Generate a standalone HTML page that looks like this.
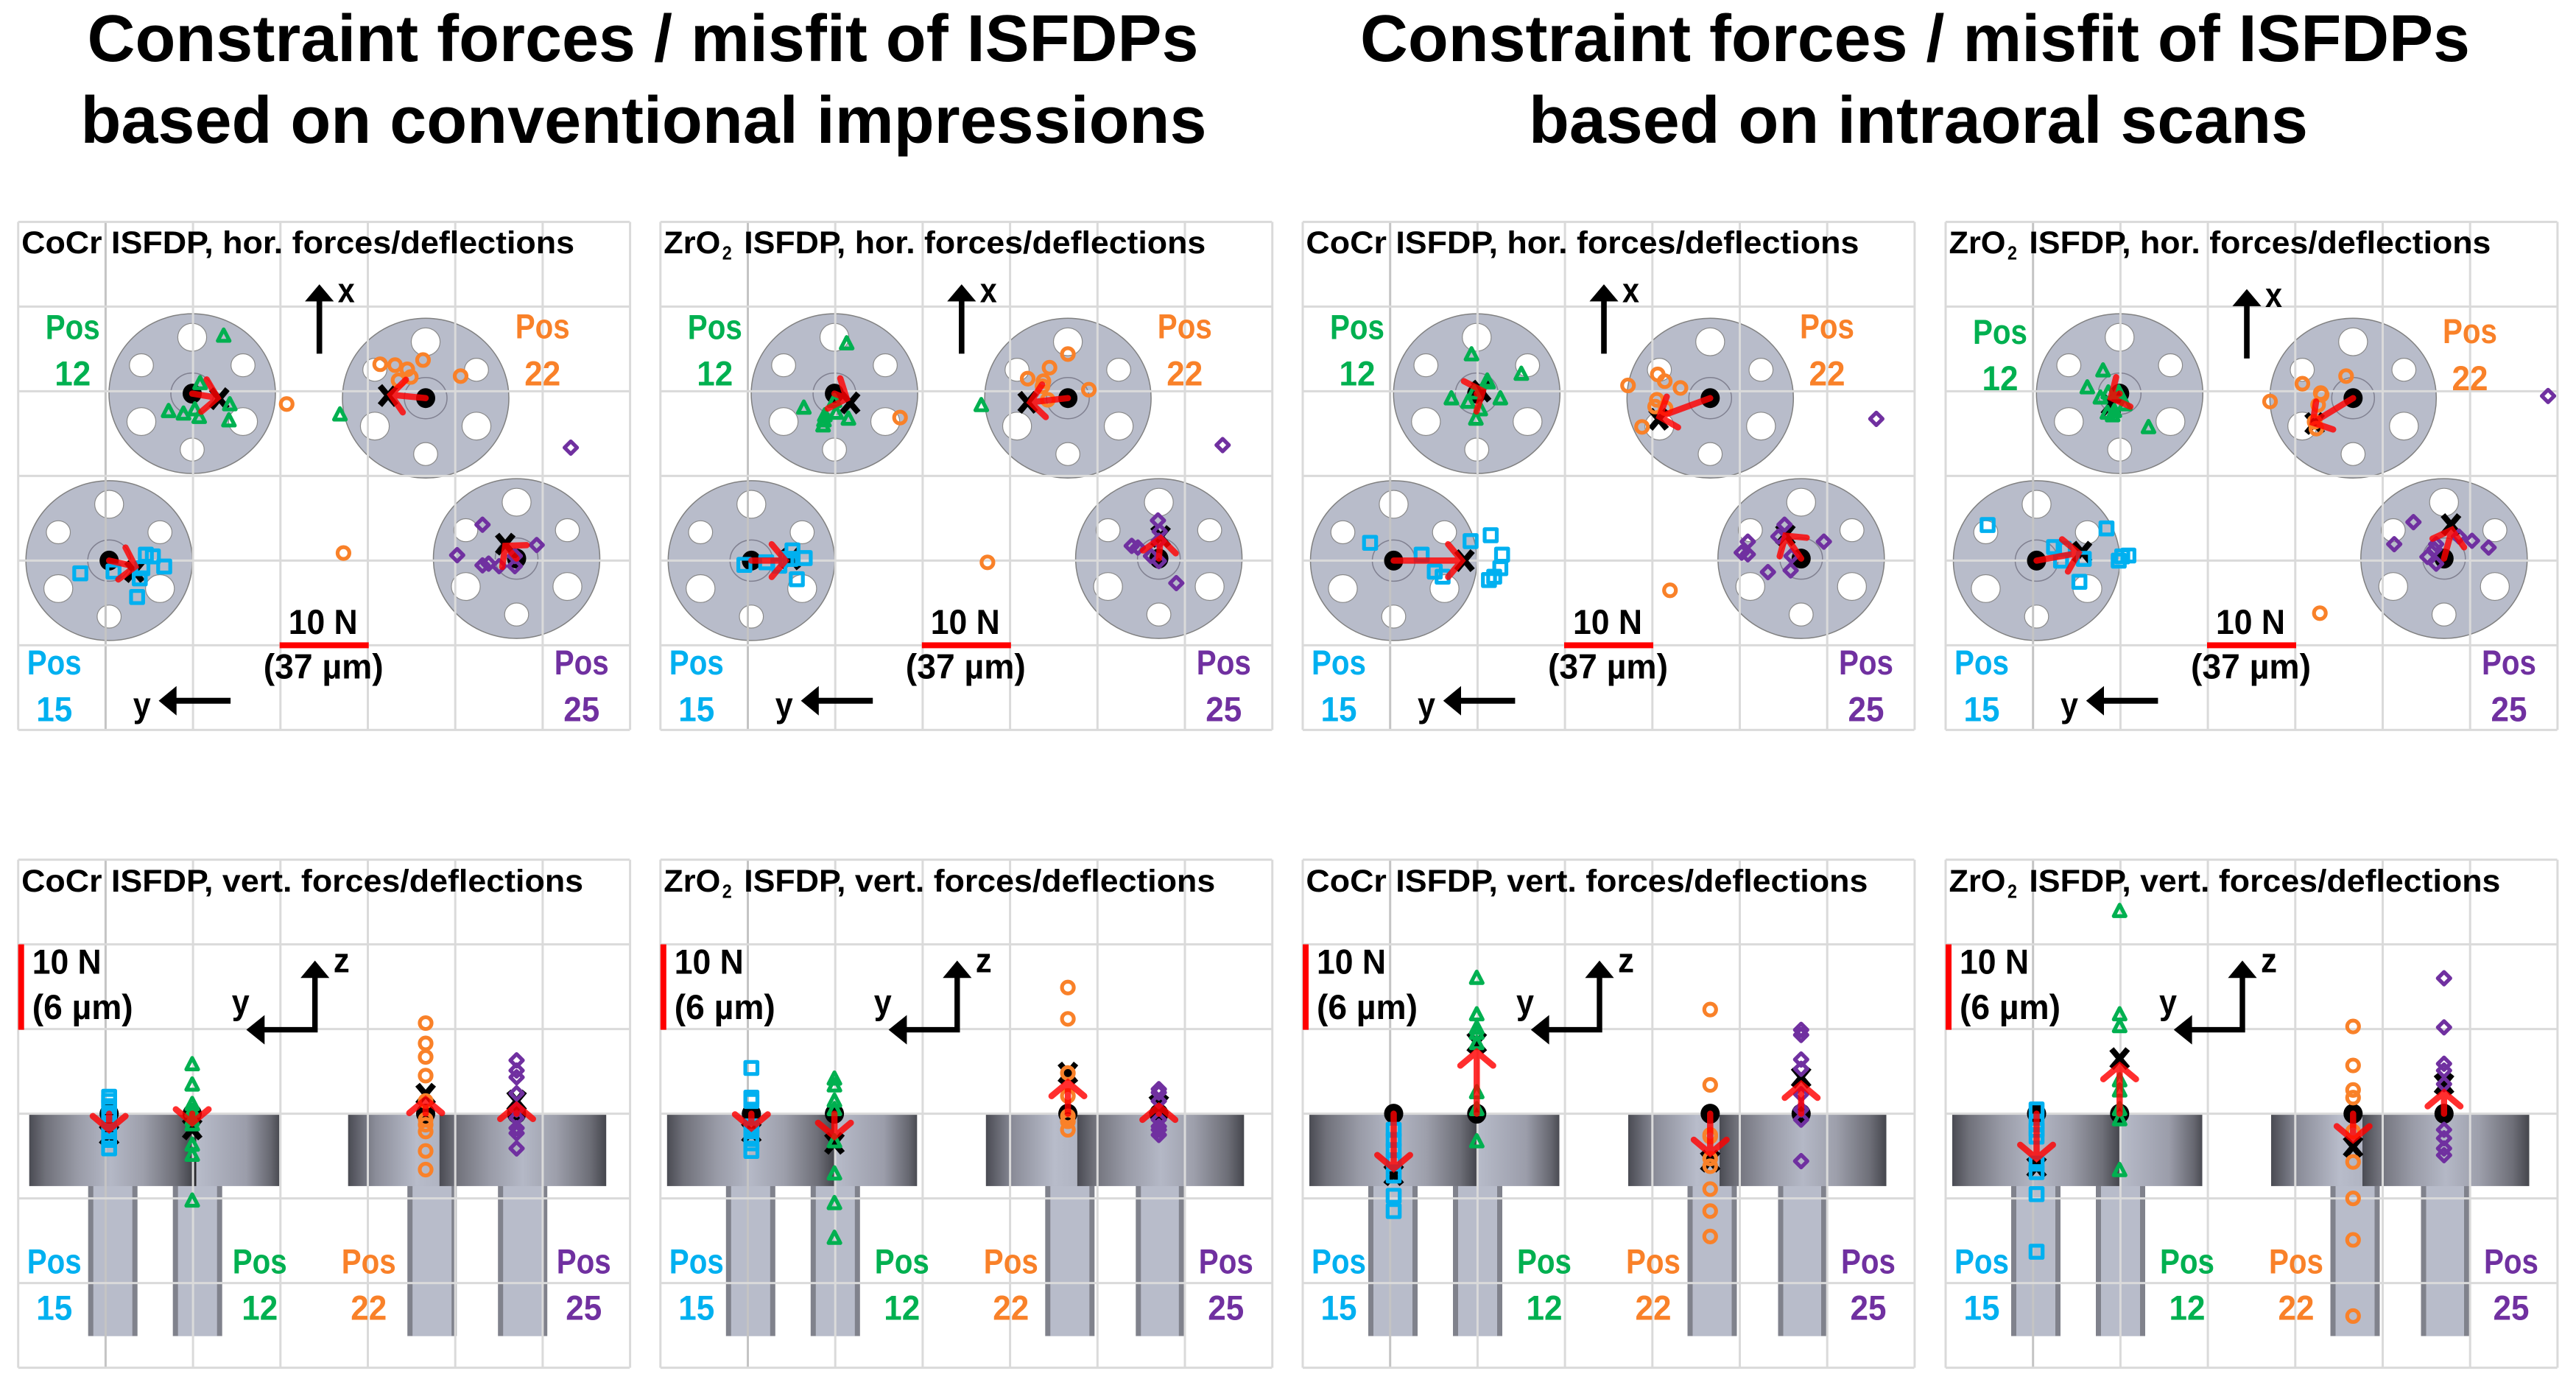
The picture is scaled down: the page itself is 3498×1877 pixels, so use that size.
<!DOCTYPE html>
<html lang="en">
<head>
<meta charset="utf-8">
<title>Constraint forces and misfit of ISFDPs</title>
<style>
html,body{margin:0;padding:0;background:#fff;}
svg{display:block;}
text{font-family:"Liberation Sans",Arial,sans-serif;font-weight:bold;}
</style>
</head>
<body>
<svg id="chart" xmlns="http://www.w3.org/2000/svg" width="3498" height="1877" viewBox="0 0 3498 1877">
<defs>
<linearGradient id="g-full" x1="0" x2="1" y1="0" y2="0"><stop offset="0" stop-color="#4a4b53"/><stop offset=".1" stop-color="#70717a"/><stop offset=".3" stop-color="#999ba7"/><stop offset=".5" stop-color="#b4b8c6"/><stop offset=".7" stop-color="#9d9fab"/><stop offset=".9" stop-color="#6e6f78"/><stop offset="1" stop-color="#45464d"/></linearGradient>
<linearGradient id="g-fall" x1="0" x2="1" y1="0" y2="0"><stop offset="0" stop-color="#b8bcca"/><stop offset=".6" stop-color="#9b9daa"/><stop offset=".9" stop-color="#666770"/><stop offset="1" stop-color="#4a4b52"/></linearGradient>
<linearGradient id="g-rise" x1="0" x2="1" y1="0" y2="0"><stop offset="0" stop-color="#4a4b53"/><stop offset=".3" stop-color="#8b8d99"/><stop offset=".75" stop-color="#b8bcca"/><stop offset="1" stop-color="#b0b4c2"/></linearGradient>
</defs>
<rect x="0" y="0" width="3498" height="1877" fill="#fff"/>
<text x="118.5" y="83" font-size="90" fill="#000" textLength="1509" lengthAdjust="spacingAndGlyphs">Constraint forces / misfit of ISFDPs</text>
<text x="109.5" y="194" font-size="90" fill="#000" textLength="1529" lengthAdjust="spacingAndGlyphs">based on conventional impressions</text>
<text x="1847" y="83" font-size="90" fill="#000" textLength="1507" lengthAdjust="spacingAndGlyphs">Constraint forces / misfit of ISFDPs</text>
<text x="2076" y="194" font-size="90" fill="#000" textLength="1058" lengthAdjust="spacingAndGlyphs">based on intraoral scans</text>
</svg>
<script>
// ---- Data: all values in newtons. Horizontal pairs are [y (+left), x (+up)] relative to the implant centre.
const horCategories = ['12','22','15','25'];
const vertCategories = ['15','12','22','25'];

// Panel 1: CoCr, conventional, horizontal
const h1Pos12 = [[-3.6,6.8],[-0.9,1.2],[2.7,-2.1],[1.0,-2.4],[-0.3,-1.9],[-0.8,-2.8],[-4.3,-1.3],[-4.2,-3.2],[-16.9,-2.5]];
const h1Pos22 = [[5.2,4.0],[3.5,3.9],[2.1,3.4],[0.3,4.5],[-4.0,2.6],[1.7,2.5],[3.1,2.1],[15.9,-0.7],[9.4,-18.3]];
const h1Pos15 = [[3.3,-1.5],[-0.5,-1.3],[-4.2,0.7],[-5.0,0.5],[-6.3,-0.7],[-3.8,-0.9],[-3.5,-2.1],[-3.2,-4.3]];
const h1Pos25 = [[3.9,4.0],[-2.3,1.6],[6.8,0.4],[3.9,-0.8],[3.2,-0.6],[2.0,-0.9],[0.2,-0.9],[0.2,0.3],[-6.2,13.1]];
const h1Mean = [[-3.1,-0.6],[4.3,0.3],[-2.9,-1.3],[1.3,1.7]];
const h1Force = [[-2.9,-0.5],[4.0,0.4],[-3.0,-0.7],[1.3,1.5]];

// Panel 2: ZrO2, conventional, horizontal
const h2Pos12 = [[-1.4,5.9],[3.5,-1.7],[0,-0.9],[1.1,-2.6],[1.2,-3.2],[1.3,-3.8],[-0.2,-2.3],[-1.6,-3.0],[-16.8,-1.4]];
const h2Pos22 = [[0,5.2],[2.1,3.6],[4.6,2.3],[2.8,2.0],[2.9,1.4],[2.3,-0.2],[-2.4,1.0],[19.2,-2.3],[9.2,-19.4]];
const h2Pos15 = [[0.8,-0.5],[-1.7,-0.2],[-3.2,-0.6],[-4.7,1.2],[-6.1,0.3],[-4.5,0.2],[-5.2,-2.2],[-4.0,0.2]];
const h2Pos25 = [[0.1,4.5],[-0.1,3.2],[3.1,1.5],[2.4,1.3],[0.9,0.3],[0,-0.3],[-2.0,-2.9],[-7.3,13.4],[0,2.1]];
const h2Mean = [[-1.8,-1.1],[4.6,-0.5],[-4.5,0.2],[-0.2,2.6]];
const h2Force = [[-1.4,-0.6],[4.3,-0.5],[-3.9,0],[-0.2,2.4]];

// Panel 3: CoCr, intraoral, horizontal
const h3Pos12 = [[0.6,4.6],[-5.1,2.3],[-1.2,1.5],[-1.3,1.3],[2.9,-0.6],[1.0,-1.0],[-0.4,-1.9],[-2.7,-0.6],[0.1,-3.0],[0.3,0.1]];
const h3Pos22 = [[6.0,2.8],[5.2,2.0],[3.4,1.2],[9.4,1.5],[6.1,-0.2],[6.3,-1.0],[5.1,-1.2],[7.8,-3.4],[4.6,-22.7]];
const h3Pos15 = [[2.7,2.1],[-3.2,0.7],[-8.8,2.3],[-11.1,3.0],[-12.4,0.7],[-12.2,-0.9],[-4.7,-1.3],[-5.6,-1.9],[-11.5,-1.9],[-10.9,-2.3]];
const h3Pos25 = [[1.9,4.0],[2.6,2.6],[-2.6,2.0],[6.1,2.0],[6.8,0.7],[6.1,0.5],[1.1,0.3],[3.8,-1.6],[1.2,-1.4],[-8.6,16.5]];
const h3Mean = [[-0.5,0.3],[5.9,-2.5],[-8.1,0],[1.8,2.8]];
const h3Force = [[-0.7,0.3],[5.8,-2.2],[-7.8,0],[1.8,2.7]];

// Panel 4: ZrO2, intraoral, horizontal
const h4Pos12 = [[1.9,2.7],[3.7,0.7],[2.2,-0.5],[1.3,0.1],[0.1,0.1],[-0.6,-1.3],[1.4,-2.3],[0.8,-2.6],[-3.3,-4.0],[0.6,-2.1]];
const h4Pos22 = [[5.8,1.7],[0.8,2.6],[9.5,-0.4],[3.7,0.6],[3.6,0.4],[4.0,-0.8],[4.4,-2.8],[4.2,-3.6],[3.8,-25.4]];
const h4Pos15 = [[5.6,4.2],[-2.0,1.6],[-3.1,1.4],[-2.8,0],[-5.4,0.2],[-8.0,3.8],[-9.4,0],[-9.8,0.5],[-10.5,0.6],[-4.9,-2.5]];
const h4Pos25 = [[3.5,4.3],[5.7,1.7],[-1.7,2.6],[-3.2,2.1],[-5.1,1.3],[0.9,1.7],[1.1,1.1],[1.9,0.2],[0.9,-0.6],[-11.9,19.2]];
const h4Mean = [[1.0,-1.3],[4.4,-3.0],[-5.2,1.0],[-0.8,4.0]];
const h4Force = [[1.0,-0.5],[4.6,-2.9],[-4.8,0.9],[-0.9,3.4]];

// Vertical panels: z values (+up) in newtons relative to the implant top
const v1Pos15 = [2.0,1.5,0.9,-0.1,-1.1,-2.1,-3.1,-4.1];
const v1Pos12 = [5.8,3.4,1.1,0.3,-0.7,-1.3,-3.7,-4.9,-10.3];
const v1Pos22 = [10.7,8.3,6.7,4.5,1.5,-0.7,-1.3,-2.1,-4.4,-6.6];
const v1Pos25 = [6.3,5.1,4.3,2.4,0.5,-0.5,-1.7,-2.3,-4.1];
const v1Mean = [-2.5,-1.8,2.3,1.5];
const v1Force = [-1.9,-1.1,1.7,1.0];

const v2Pos15 = [5.4,1.9,1.5,-1.5,-1.9,-2.7,-3.5,-4.4];
const v2Pos12 = [4.1,3.3,1.5,0.5,-3.3,-7.1,-10.6,-14.7];
const v2Pos22 = [14.9,11.2,4.8,2.1,-0.3,-0.9,-1.9];
const v2Pos25 = [2.9,2.5,1.5,-0.7,-1.5,-1.9,-2.5];
const v2Mean = [-2.2,-3.5,4.8,1.0];
const v2Force = [-1.7,-2.7,3.7,0.9];

const v3Pos15 = [-1.9,-3.1,-4.3,-5.5,-7.3,-9.7,-11.5];
const v3Pos12 = [16,11.7,10.1,9.5,8.3,2.5,0.5,-3.3];
const v3Pos22 = [12.3,3.4,-2.5,-2.7,-5.3,-6.2,-8.9,-11.5,-14.5];
const v3Pos25 = [9.9,9.3,6.4,5.3,2.3,0.5,-0.7,-5.6];
const v3Mean = [-7.2,8.4,-5.6,4.3];
const v3Force = [-6.5,7.3,-4.7,3.5];

const v4Pos15 = [0.5,-1.1,-1.9,-2.7,-5.9,-6.9,-9.5,-16.3];
const v4Pos12 = [23.9,11.7,10.3,3.9,2.7,0.5,-0.7,-6.7];
const v4Pos22 = [10.3,5.7,2.8,1.9,-2.1,-5.7,-10,-14.9,-23.9];
const v4Pos25 = [16,10.2,5.9,5.1,3.5,-1.9,-2.9,-4.1,-4.9];
const v4Mean = [-6.3,6.5,-3.9,3.5];
const v4Force = [-5.3,5.7,-3.1,2.5];

// ---- Layout
const NS = 'http://www.w3.org/2000/svg';
const svg = document.getElementById('chart');
const COLORS = {'12':'#00b050','22':'#f98129','15':'#00b0f0','25':'#7030a0'};
const SHAPES = {'12':'triangle','22':'circle','15':'square','25':'diamond'};
const CENTERS = {'12':[236.3,233.2],'22':[553.3,239.3],'15':[123.5,460],'25':[676.8,457.2]};
const PANEL_W = 830.5, PANEL_H = 690, CELL_W = 118.7, CELL_H = 115;
const N_X = 11.87, N_Y = 11.5;
const V_BASE = 345;
const HOR_TOP = 301.4, VERT_TOP = 1167.6;

function axisX(v){ return -v * N_X; }
function axisY(v){ return -v * N_Y; }

function el(tag, attrs, parent){
  const e = document.createElementNS(NS, tag);
  for (const k in attrs) e.setAttribute(k, attrs[k]);
  parent.appendChild(e);
  return e;
}
function txt(parent, x, y, s, size, fill, len){
  const t = el('text', {x:x, y:y, 'font-size':size, fill:fill, textLength:len, lengthAdjust:'spacingAndGlyphs'}, parent);
  t.textContent = s;
  return t;
}

function drawGrid(g){
  for (let i = 0; i <= 7; i++){
    const l = el('line', {x1:i*CELL_W, x2:i*CELL_W, y1:0, y2:PANEL_H, stroke:(i===1?'#c4c4c4':'#dadada'), 'stroke-width':3}, g);
    
    
  }
  for (let i = 0; i <= 6; i++){
    const l = el('line', {x1:0, x2:PANEL_W, y1:i*CELL_H, y2:i*CELL_H, stroke:'#dadada', 'stroke-width':3}, g);
    
    
  }
}

function drawTitle(g, metal, kind){
  const full = kind + ' forces/deflections';
  if (metal === 'CoCr'){
    const t = txt(g, 4.4, kind === 'hor.' ? 42.8 : 43.6, 'CoCr ISFDP, ' + full, 43, '#000', kind === 'hor.' ? 751 : 763);
    
    
  } else {
    const base = kind === 'hor.' ? 42.8 : 43.6;
    const a = txt(g, 4.5, base, 'ZrO', 43, '#000', 77);
    
    
    const b = txt(g, 84, base + 8.5, '2', 26, '#000', 13);
    
    
    const c = txt(g, 113.4, base, 'ISFDP, ' + full, 43, '#000', kind === 'hor.' ? 627 : 640);
    
    
  }
}

function drawPosLabel(g, cat, cx, yPos, yNum){
  const a = txt(g, cx - 37, yPos, 'Pos', 47, COLORS[cat], 74);
  
  
  const b = txt(g, cx - 24.5, yNum, cat, 47, COLORS[cat], 49);
  
  
}

function drawMarker(g, cat, px, py){
  const col = COLORS[cat], shape = SHAPES[cat];
  let m;
  const st = {fill:'none', stroke:col, 'stroke-width':5.2, 'stroke-linejoin':'round'};
  if (shape === 'triangle'){
    m = el('polygon', Object.assign({points:(px)+','+(py-9)+' '+(px+8)+','+(py+6.5)+' '+(px-8)+','+(py+6.5)}, st), g);
  } else if (shape === 'circle'){
    m = el('circle', Object.assign({cx:px, cy:py, r:8}, st), g);
  } else if (shape === 'square'){
    m = el('rect', Object.assign({x:px-8.2, y:py-8.2, width:16.4, height:16.4}, st), g);
  } else {
    m = el('polygon', Object.assign({points:px+','+(py-8.5)+' '+(px+8.5)+','+py+' '+px+','+(py+8.5)+' '+(px-8.5)+','+py}, st), g);
  }
  
  
}

function drawDot(g, cx, cy){
  const d = el('ellipse', {cx:cx, cy:cy, rx:13, ry:13.5, fill:'#000'}, g);
  
  
}

function drawCross(g, px, py){
  const c = el('g', {stroke:'#000', 'stroke-width':8}, g);
  
  
  el('line', {x1:px-11, y1:py-13, x2:px+11, y2:py+13}, c);
  el('line', {x1:px+11, y1:py-13, x2:px-11, y2:py+13}, c);
}

function drawForce(g, x0, y0, x1, y1){
  const a = el('g', {stroke:'#ff0000', 'stroke-width':8.5, 'stroke-linecap':'round', opacity:.82, fill:'none'}, g);
  
  
  const ang = Math.atan2(y1 - y0, x1 - x0);
  const len = 29, spread = 50 * Math.PI / 180;
  const hx1 = x1 - len * Math.cos(ang - spread), hy1 = y1 - len * Math.sin(ang - spread);
  const hx2 = x1 - len * Math.cos(ang + spread), hy2 = y1 - len * Math.sin(ang + spread);
  el('path', {d:'M'+x0+' '+y0+'L'+x1+' '+y1+'M'+hx1+' '+hy1+'L'+x1+' '+y1+'L'+hx2+' '+hy2}, a);
}

function drawDisc(g, cx, cy, cat){
  const d = el('g', {transform:'translate('+cx+','+cy+')'}, g);
  
  
  el('ellipse', {cx:0, cy:0, rx:113, ry:108.5, fill:'#b8bcca', stroke:'#808080', 'stroke-width':1.5}, d);
  const holes = [[0,-76.5,19.6,18.9],[-69,-38.5,16.3,15.6],[69,-38.5,16.3,15.6],[-69,38,19.6,18.9],[69,38,19.6,18.9],[0,76,16.3,15.6]];
  holes.forEach(function(h){
    el('ellipse', {cx:h[0], cy:h[1], rx:h[2], ry:h[3], fill:'#fff', stroke:'#8a8a8a', 'stroke-width':1.2}, d);
  });
  el('ellipse', {cx:0, cy:0, rx:29, ry:28, fill:'none', stroke:'#808090', 'stroke-width':1.5}, d);
}

function arrowPath(parent, d, name){
  const p = el('path', {d:d, fill:'#000'}, parent);
  
  
}

function drawHorizontal(cfg){
  const g = el('g', {transform:'translate('+cfg.x+','+HOR_TOP+')'}, svg);
  
  

  horCategories.forEach(function(cat){
    drawDisc(g, CENTERS[cat][0], CENTERS[cat][1], cat);
  });
  drawGrid(g);
  drawTitle(g, cfg.metal, 'hor.');

  const s = cfg.shift;
  drawPosLabel(g, '12', 74, 159 + s, 222 + s);
  drawPosLabel(g, '22', 712, 158 + s, 222 + s);
  drawPosLabel(g, '15', 49, 614.6, 678);
  drawPosLabel(g, '25', 765, 614.6, 678);

  const bar = el('rect', {x:355, y:571, width:121, height:8, fill:'#ff0000'}, g);
  
  
  const t1 = txt(g, 367, 559.6, '10 N', 47, '#000', 94);
  
  
  const t2 = txt(g, 333, 620, '(37 µm)', 47, '#000', 163);
  
  

  arrowPath(g, 'M405.2 '+(179+s)+'V'+(108+s)+'H389.4L409 '+(84.7+s)+'L428.6 '+(108+s)+'H412.8V'+(179+s)+'Z', 'x-axis-arrow');
  const xl = txt(g, 434, 109 + s, 'x', 47, '#000', 23);
  
  
  arrowPath(g, 'M288.4 646.4H215V630.4L190.8 650.4L215 670.4V654.4H288.4Z', 'y-axis-arrow');
  const yl = txt(g, 156, 672, 'y', 47, '#000', 24);
  
  

  horCategories.forEach(function(cat, i){
    const c = CENTERS[cat];
    drawDot(g, c[0], c[1]);
    drawCross(g, c[0] + axisX(cfg.mean[i][0]), c[1] + axisY(cfg.mean[i][1]));
    cfg.series[i].forEach(function(p){
      drawMarker(g, cat, c[0] + axisX(p[0]), c[1] + axisY(p[1]));
    });
    drawForce(g, c[0], c[1], c[0] + axisX(cfg.force[i][0]), c[1] + axisY(cfg.force[i][1]));
  });
}

function drawVertical(cfg){
  const g = el('g', {transform:'translate('+cfg.x+','+VERT_TOP+')'}, svg);
  
  

  const dx = cfg.dx;
  [89,204,522.5,645.5].forEach(function(sx, i){
    const w = i === 3 && dx === 0 ? 65.5 : 67;
    const sh = el('g', {}, g);
    
    
    el('rect', {x:sx+dx, y:443, width:w, height:204, fill:'#80828c'}, sh);
    el('rect', {x:sx+dx+7, y:443, width:w-14, height:204, fill:'#b8bcca'}, sh);
  });

  const sections = [
    [9+dx, 236, 'g-full'],
    [236+dx, 348.5+dx, 'g-fall'],
    [442+dx, 566+dx, 'g-rise'],
    [566+dx, 792.5+dx, 'g-full']
  ];
  if (dx > 0){
    const seam = el('rect', {x:236, y:346.3, width:6, height:97, fill:'#2c2c30'}, g);
    
    
  }
  sections.forEach(function(b){
    const r = el('rect', {x:b[0], y:346.3, width:b[1]-b[0], height:97, fill:'url(#'+b[2]+')'}, g);
    
    
  });
  drawGrid(g);
  drawTitle(g, cfg.metal, 'vert.');

  const bar = el('rect', {x:0, y:115, width:8, height:116, fill:'#ff0000'}, g);
  
  
  const t1 = txt(g, 19, 155, '10 N', 47, '#000', 94);
  
  
  const t2 = txt(g, 19, 216.5, '(6 µm)', 47, '#000', 137);
  
  

  arrowPath(g, 'M399.3 227.3V160.6H383.4L403 137L422.6 160.6H406.7V234.7H334.6V251L309.8 231L334.6 211V227.3Z', 'z-y-axis-arrows');
  const zl = txt(g, 428, 153, 'z', 47, '#000', 22);
  
  
  const yl = txt(g, 290, 209.5, 'y', 47, '#000', 24);
  
  

  drawPosLabel(g, '15', 49, 562, 625);
  drawPosLabel(g, '12', 328, 562, 625);
  drawPosLabel(g, '22', 476, 562, 625);
  drawPosLabel(g, '25', 768, 562, 625);

  vertCategories.forEach(function(cat, i){
    const cx = CENTERS[cat][0];
    drawDot(g, cx, V_BASE);
    drawCross(g, cx, V_BASE + axisY(cfg.mean[i]));
    cfg.series[i].forEach(function(v){
      drawMarker(g, cat, cx, V_BASE + axisY(v));
    });
    drawForce(g, cx, V_BASE, cx, V_BASE + axisY(cfg.force[i]));
  });
}

drawHorizontal({id:'cocr-conventional', x:24.7, metal:'CoCr', shift:0, series:[h1Pos12,h1Pos22,h1Pos15,h1Pos25], mean:h1Mean, force:h1Force});
drawHorizontal({id:'zro2-conventional', x:896.8, metal:'ZrO2', shift:0, series:[h2Pos12,h2Pos22,h2Pos15,h2Pos25], mean:h2Mean, force:h2Force});
drawHorizontal({id:'cocr-intraoral', x:1769, metal:'CoCr', shift:0, series:[h3Pos12,h3Pos22,h3Pos15,h3Pos25], mean:h3Mean, force:h3Force});
drawHorizontal({id:'zro2-intraoral', x:2642, metal:'ZrO2', shift:6.5, series:[h4Pos12,h4Pos22,h4Pos15,h4Pos25], mean:h4Mean, force:h4Force});

drawVertical({id:'cocr-conventional', x:24.7, metal:'CoCr', dx:6, series:[v1Pos15,v1Pos12,v1Pos22,v1Pos25], mean:v1Mean, force:v1Force});
drawVertical({id:'zro2-conventional', x:896.8, metal:'ZrO2', dx:0, series:[v2Pos15,v2Pos12,v2Pos22,v2Pos25], mean:v2Mean, force:v2Force});
drawVertical({id:'cocr-intraoral', x:1769, metal:'CoCr', dx:0, series:[v3Pos15,v3Pos12,v3Pos22,v3Pos25], mean:v3Mean, force:v3Force});
drawVertical({id:'zro2-intraoral', x:2642, metal:'ZrO2', dx:0, series:[v4Pos15,v4Pos12,v4Pos22,v4Pos25], mean:v4Mean, force:v4Force});
</script>
</body>
</html>
